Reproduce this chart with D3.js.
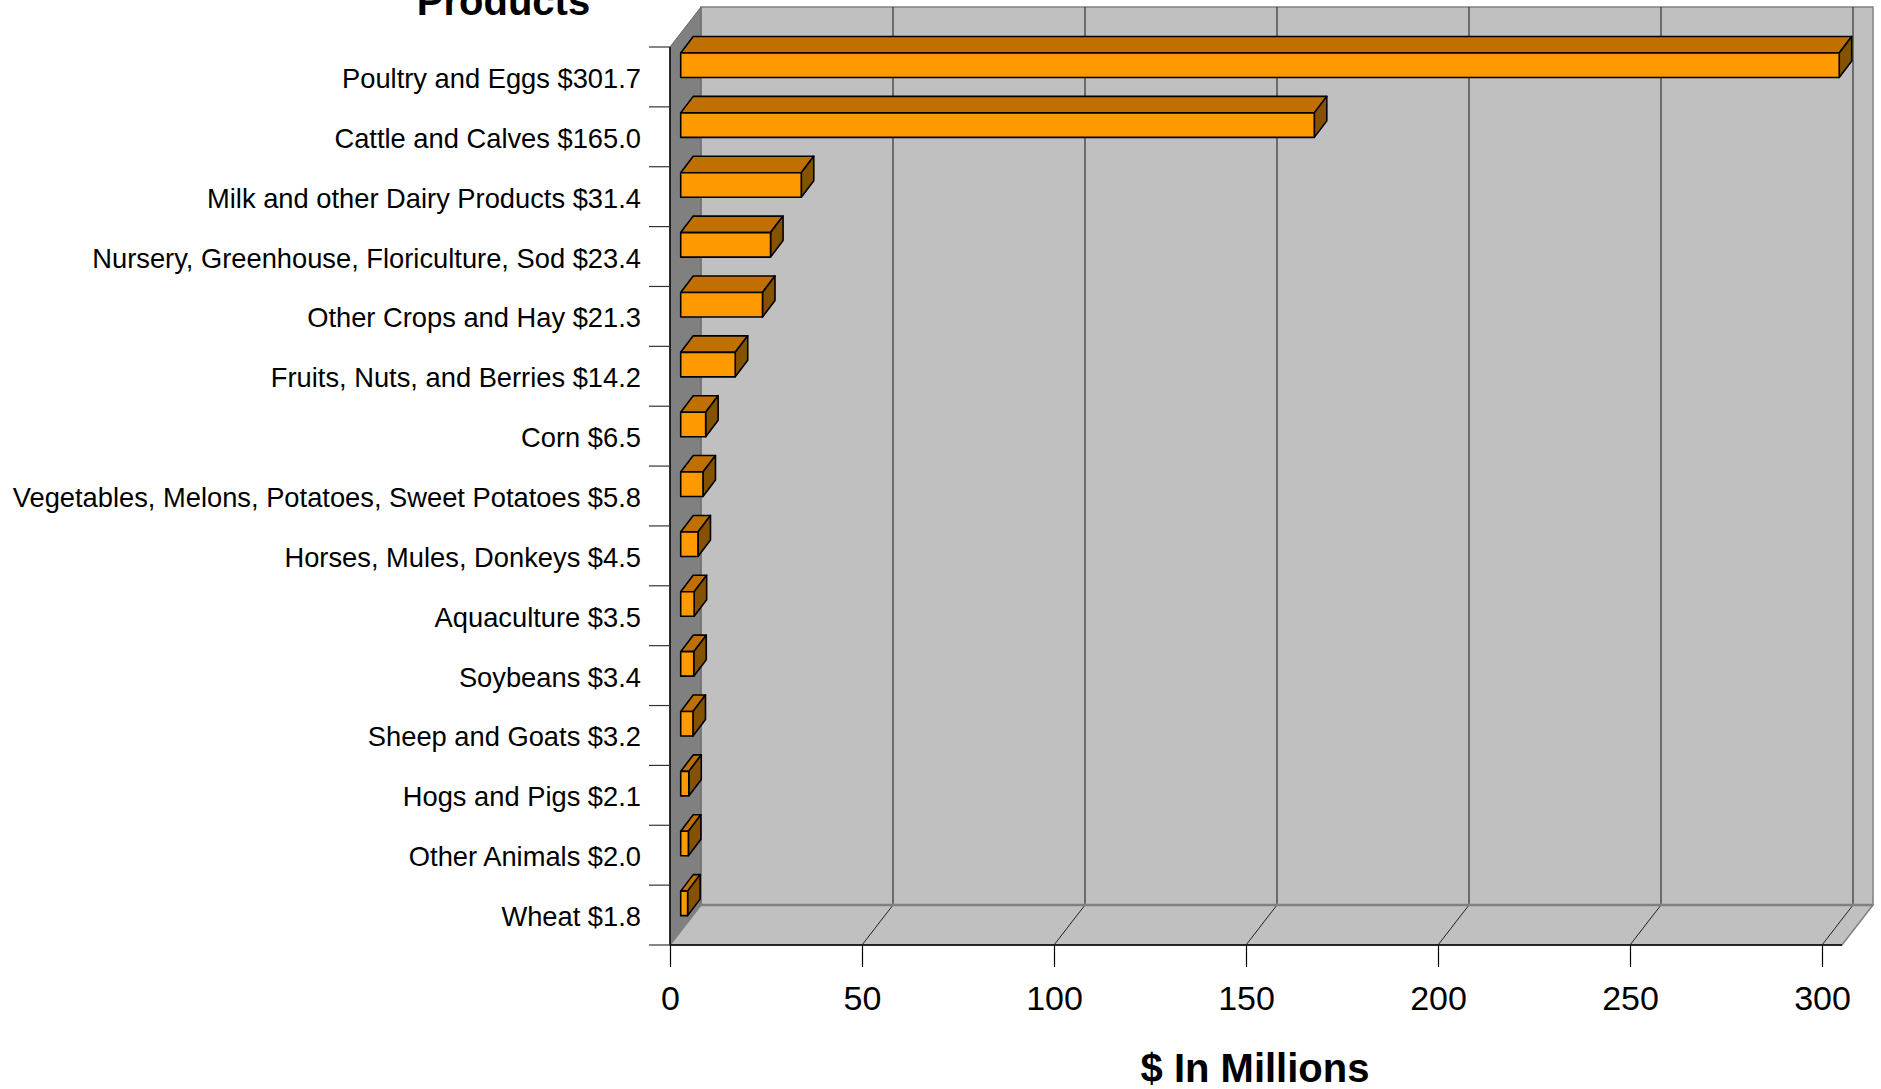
<!DOCTYPE html>
<html>
<head>
<meta charset="utf-8">
<script src="https://cdn.jsdelivr.net/npm/d3@7/dist/d3.min.js"></script>
<style>
  html, body { margin: 0; padding: 0; background: #ffffff; }
  svg { display: block; font-family: Arial, "Liberation Sans", sans-serif; }
</style>
</head>
<body>
<svg id="chart" width="1881" height="1089"></svg>
<script>
// ---- data ----
const categories = [
  "Poultry and Eggs $301.7",
  "Cattle and Calves $165.0",
  "Milk and other Dairy Products $31.4",
  "Nursery, Greenhouse, Floriculture, Sod $23.4",
  "Other Crops and Hay $21.3",
  "Fruits, Nuts, and Berries $14.2",
  "Corn $6.5",
  "Vegetables, Melons, Potatoes, Sweet Potatoes $5.8",
  "Horses, Mules, Donkeys $4.5",
  "Aquaculture $3.5",
  "Soybeans $3.4",
  "Sheep and Goats $3.2",
  "Hogs and Pigs $2.1",
  "Other Animals $2.0",
  "Wheat $1.8"
];
const values = [301.7, 165.0, 31.4, 23.4, 21.3, 14.2, 6.5, 5.8, 4.5, 3.5, 3.4, 3.2, 2.1, 2.0, 1.8];
const xTicks = [0, 50, 100, 150, 200, 250, 300];
const titleText = "Products";
const xAxisTitle = "$ In Millions";

(function () {
// ---- layout ----
const svg = d3.select("#chart");
const pLeft = 670, pRight300 = 1822, pTop = 47, pBottom = 945;
const depthX = 31, depthY = -40;       // wall depth offset
const plotRightFront = 1842;           // front right edge of floor
const barOffX = 10.7;                  // bar front face offset
const barDX = 12.5, barDY = -16.5;     // bar depth

const x = d3.scaleLinear().domain([0, 300]).range([pLeft, pRight300]);
const y = d3.scaleBand().domain(categories).range([pTop, pBottom]).paddingInner(0).paddingOuter(0);

const backLeft = pLeft + depthX, backTop = pTop + depthY, backBottom = pBottom + depthY;
const backRight = plotRightFront + depthX;
const pts = a => a.map(p => p.join(",")).join(" ");

// back wall
svg.append("rect")
  .attr("x", backLeft).attr("y", backTop)
  .attr("width", backRight - backLeft).attr("height", backBottom - backTop)
  .attr("fill", "#C0C0C0").attr("stroke", "#808080").attr("stroke-width", 1.5);

// left wall
svg.append("polygon")
  .attr("points", pts([[pLeft, pTop], [backLeft, backTop], [backLeft, backBottom], [pLeft, pBottom]]))
  .attr("fill", "#808080").attr("stroke", "#666").attr("stroke-width", 1);

// floor
svg.append("polygon")
  .attr("points", pts([[pLeft, pBottom], [backLeft, backBottom], [backRight, backBottom], [plotRightFront, pBottom]]))
  .attr("fill", "#C0C0C0").attr("stroke", "#808080").attr("stroke-width", 1.5);

// back wall gridlines
svg.append("g").selectAll("line")
  .data(xTicks.filter(t => t > 0))
  .join("line")
  .attr("x1", d => x(d) + depthX).attr("x2", d => x(d) + depthX)
  .attr("y1", backTop).attr("y2", backBottom)
  .attr("stroke", "#333").attr("stroke-width", 1.2);

// floor diagonals
svg.append("g").selectAll("line")
  .data(xTicks.filter(t => t > 0))
  .join("line")
  .attr("x1", d => x(d)).attr("x2", d => x(d) + depthX)
  .attr("y1", pBottom).attr("y2", backBottom)
  .attr("stroke", "#222").attr("stroke-width", 1);

// back floor edge line
svg.append("line")
  .attr("x1", backLeft).attr("x2", backRight)
  .attr("y1", backBottom).attr("y2", backBottom)
  .attr("stroke", "#808080").attr("stroke-width", 2.5);

// bars
const bars = svg.append("g");
const data = categories.map((c, i) => ({ c, v: values[i] }));
data.forEach(d => {
  const bt = y(d.c);
  const fx0 = x(0) + barOffX, fx1 = x(d.v) + barOffX;
  const fy0 = bt + 6, fy1 = bt + 30.5;
  const g = bars.append("g").attr("stroke", "#000").attr("stroke-width", 1.6).attr("stroke-linejoin", "round");
  g.append("polygon")
    .attr("points", pts([[fx0, fy0], [fx0 + barDX, fy0 + barDY], [fx1 + barDX, fy0 + barDY], [fx1, fy0]]))
    .attr("fill", "#C07000");
  g.append("polygon")
    .attr("points", pts([[fx1, fy0], [fx1 + barDX, fy0 + barDY], [fx1 + barDX, fy1 + barDY], [fx1, fy1]]))
    .attr("fill", "#845200");
  g.append("rect")
    .attr("x", fx0).attr("y", fy0).attr("width", fx1 - fx0).attr("height", fy1 - fy0)
    .attr("fill", "#FF9900");
});

// category axis
const yg = svg.append("g").attr("transform", `translate(${pLeft},0)`);
yg.append("line").attr("x1", 0).attr("x2", 0).attr("y1", pTop).attr("y2", pBottom).attr("stroke", "#000").attr("stroke-width", 1.5);
const bounds = categories.map(c => y(c)).concat([pBottom]);
yg.selectAll("line.bt").data(bounds).join("line").attr("class", "bt")
  .attr("x1", -21).attr("x2", 0).attr("y1", d => d).attr("y2", d => d)
  .attr("stroke", "#333").attr("stroke-width", 1.2);
yg.selectAll("text.cl").data(categories).join("text").attr("class", "cl")
  .attr("x", -29).attr("y", d => y(d) + y.bandwidth() / 2 + 11)
  .attr("text-anchor", "end").attr("font-size", 27.3).attr("fill", "#000")
  .text(d => d);

// value axis
const xAxis = d3.axisBottom(x).tickValues(xTicks).tickSize(22).tickPadding(0).tickFormat(d3.format("d"));
const xg = svg.append("g").attr("transform", `translate(0,${pBottom})`).call(xAxis);
xg.select(".domain").remove();
xg.selectAll(".tick line").attr("stroke", "#000").attr("stroke-width", 1.2);
xg.selectAll(".tick text").attr("font-size", 34).attr("fill", "#000").attr("dy", null).attr("y", 65)
  .attr("font-family", "Arial, 'Liberation Sans', sans-serif");
svg.append("line").attr("x1", pLeft).attr("x2", plotRightFront).attr("y1", pBottom).attr("y2", pBottom)
  .attr("stroke", "#000").attr("stroke-width", 1.5);

// titles
svg.append("text").attr("x", 503.5).attr("y", 15).attr("text-anchor", "middle")
  .attr("font-size", 40).attr("font-weight", "bold").text(titleText);
svg.append("text").attr("x", 1255).attr("y", 1082).attr("text-anchor", "middle")
  .attr("font-size", 40).attr("font-weight", "bold").text(xAxisTitle);
})();
</script>
</body>
</html>
